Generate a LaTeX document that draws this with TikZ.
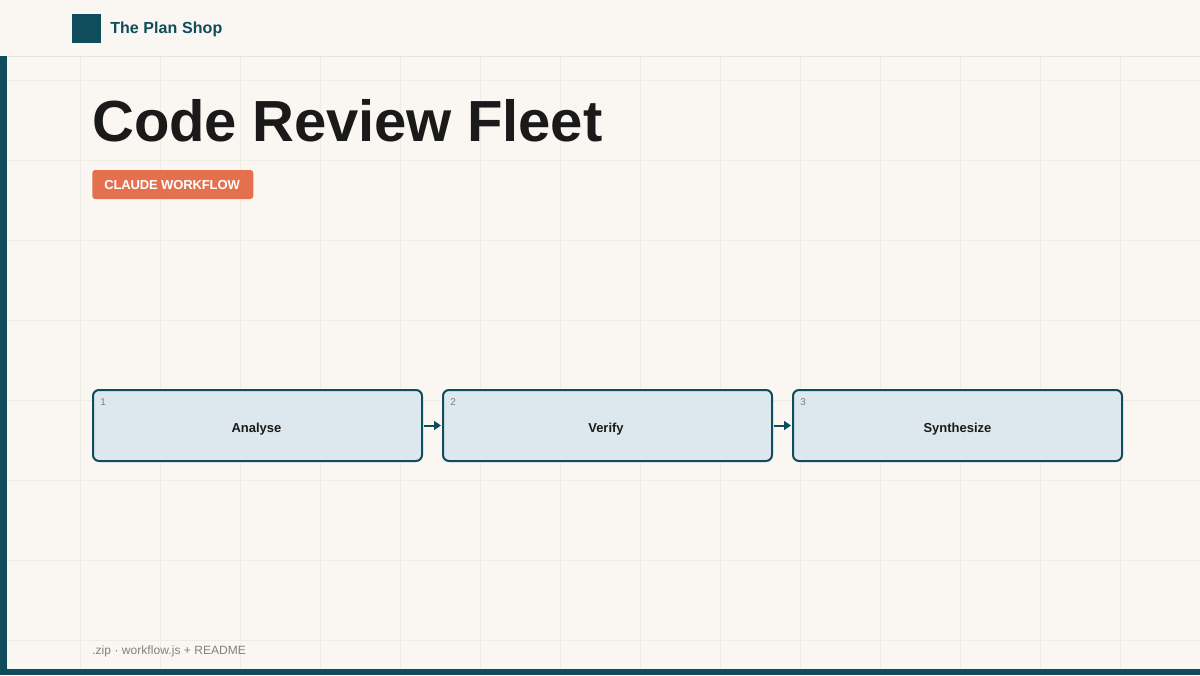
\documentclass[tikz,border=0pt]{standalone}
\usepackage{fontspec}
\setmainfont{Liberation Sans}
\usetikzlibrary{arrows.meta}
\definecolor{teal}{HTML}{0F4C5C}
\definecolor{paper}{HTML}{FAF7F2}
\definecolor{gridline}{HTML}{EFECE6}
\definecolor{headline}{HTML}{E6E3DD}
\definecolor{stepfill}{HTML}{DCE8ED}
\definecolor{badge}{HTML}{E5704D}
\definecolor{ink}{HTML}{1A1A1A}
\tikzset{
	stepbox/.style={draw=teal,fill=stepfill,line width=1.5pt,rounded corners=4.5pt,minimum width=246.75pt,minimum height=53.25pt,inner sep=0pt},
	steplabel/.style={inner sep=0pt,text=ink,font=\fontsize{9.75pt}{12pt}\selectfont\bfseries},
	stepnum/.style={anchor=west,inner sep=0pt,text=gray,font=\fontsize{7.5pt}{9pt}\selectfont},
	steparrow/.style={draw=teal,line width=1.5pt,shorten <=0.75pt,shorten >=0.75pt,-{Triangle[length=5.25pt,width=6.75pt]}}
}
\begin{document}
\begin{tikzpicture}[x=0.75pt,y=-0.75pt]
	\useasboundingbox (0,0) rectangle (1200,675);
	\fill[paper] (0,0) rectangle (1200,675);

	\foreach \x in {80,160,...,1120}{
		\draw[gridline,line width=0.75pt] (\x+0.5,56) -- (\x+0.5,669);
	}
	\foreach \y in {80,160,...,640}{
		\draw[gridline,line width=0.75pt] (7,\y+0.5) -- (1200,\y+0.5);
	}

	\draw[headline,line width=0.75pt] (0,56.5) -- (1200,56.5);
	\fill[teal] (0,56) rectangle (7,675);
	\fill[teal] (0,669) rectangle (1200,675);

	\fill[teal] (72,14) rectangle (101,43);
	\node[anchor=west,inner sep=0pt,text=teal,font=\fontsize{12pt}{14pt}\selectfont\bfseries] (brand) at (110,29.5) {\addfontfeature{LetterSpace=0.6}The Plan Shop};

	\node[anchor=base west,inner sep=0pt,text=ink,font=\fontsize{43.5pt}{50pt}\selectfont\bfseries] (title) at (92,141) {\addfontfeature{LetterSpace=-0.3}Code Review Fleet};
	\node[anchor=west,fill=badge,rounded corners=2.25pt,minimum width=120.75pt,minimum height=21.75pt,inner sep=0pt] (tag) at (92,184.5) {};
	\node[anchor=west,inner sep=0pt,text=white,font=\fontsize{9.75pt}{12pt}\selectfont\bfseries] (tagtext) at (104,185.5) {\addfontfeature{LetterSpace=-1}CLAUDE WORKFLOW};

	\node[stepbox] (analyse) at (257.5,425.5) {};
	\node[stepbox] (verify) at (607.5,425.5) {};
	\node[stepbox] (synthesize) at (957.5,425.5) {};

	\node[steplabel] (analysetext) at (256.5,429) {Analyse};
	\node[steplabel] (verifytext) at (606,429) {Verify};
	\node[steplabel] (synthesizetext) at (957.5,429) {Synthesize};

	\node[stepnum] (n1) at (100,402) {1};
	\node[stepnum] (n2) at (450,402) {2};
	\node[stepnum] (n3) at (800,402) {3};

	\draw[steparrow] (analyse) -- (verify);
	\draw[steparrow] (verify) -- (synthesize);

	\node[anchor=west,inner sep=0pt,text=gray,font=\fontsize{9pt}{11pt}\selectfont] (foot) at (92,651) {\addfontfeature{LetterSpace=0.5}.zip · workflow.js + README};
\end{tikzpicture}
\end{document}
